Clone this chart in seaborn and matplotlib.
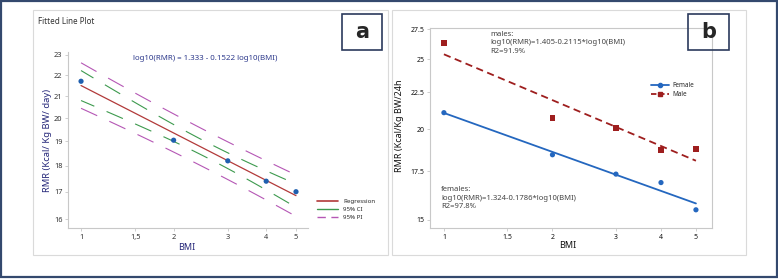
import numpy as np
import matplotlib.pyplot as plt
import seaborn as sns
from matplotlib.patches import Rectangle
from matplotlib.lines import Line2D

# data
bmi = [1, 2, 3, 4, 5]
rmr_all = [21.7, 19.05, 18.2, 17.4, 17.0]
rmr_female = [21.09, 18.45, 17.35, 16.89, 15.49]
rmr_male = [26.3, 20.72, 20.11, 18.72, 18.8]
xticks = [1, 1.5, 2, 3, 4, 5]
xtick_labels_a = ["1", "1,5", "2", "3", "4", "5"]
xtick_labels_b = ["1", "1.5", "2", "3", "4", "5"]
yticks_a = [16, 17, 18, 19, 20, 21, 22, 23]
yticks_b = [15, 17.5, 20, 22.5, 25, 27.5]
ytick_labels_b = ["15", "17.5", "20", "22.5", "25", "27.5"]
T_CRIT = 3.182  # t(0.975, df=3)

sns.set_theme(style="white")
plt.rcParams['font.family'] = ['Noto Sans', 'DejaVu Sans']

W, H = 778, 279
fig = plt.figure(figsize=(W / 100, H / 100), dpi=100)


def fx(x):
    return x / W


def fy(y):
    return 1 - y / H


def box(x0, y0, x1, y1, **kw):
    fig.patches.append(Rectangle((fx(x0), fy(y1)), fx(x1) - fx(x0), fy(y0) - fy(y1),
                                 transform=fig.transFigure, fill=False, **kw))


def axes_at(x0, y0, x1, y1):
    return fig.add_axes([fx(x0), fy(y1), fx(x1) - fx(x0), fy(y0) - fy(y1)])


def loglog_fit(x, y):
    lx, ly = np.log10(x), np.log10(y)
    b1, b0 = np.polyfit(lx, ly, 1)
    return lx, ly, b0, b1


# frames
box(1, 1, 777, 277, edgecolor="#34496E", lw=1.6)
box(33, 10, 388, 255, edgecolor="#DADADA", lw=0.8)
box(392, 10, 746, 255, edgecolor="#DADADA", lw=0.8)

# ---------------- panel a ----------------
ax = axes_at(68, 52, 308, 228)
lx, ly, b0, b1 = loglog_fit(bmi, rmr_all)
n = len(bmi)
resid = ly - (b0 + b1 * lx)
s = np.sqrt(np.sum(resid ** 2) / (n - 2))
sxx = np.sum((lx - lx.mean()) ** 2)
xs = np.linspace(1, 5, 120)
lxs = np.log10(xs)
fit = b0 + b1 * lxs
se_ci = s * np.sqrt(1 / n + (lxs - lx.mean()) ** 2 / sxx)
se_pi = s * np.sqrt(1 + 1 / n + (lxs - lx.mean()) ** 2 / sxx)

c_reg, c_ci, c_pi = "#B23A3A", "#3D9A4E", "#B557B5"
sns.lineplot(x=xs, y=10 ** fit, ax=ax, color=c_reg, lw=0.9)
for sign in (1, -1):
    sns.lineplot(x=xs, y=10 ** (fit + sign * T_CRIT * se_ci), ax=ax, color=c_ci,
                 lw=0.8, linestyle=(3, (16, 12)))
    sns.lineplot(x=xs, y=10 ** (fit + sign * T_CRIT * se_pi), ax=ax, color=c_pi,
                 lw=0.8, linestyle=(0, (16, 12)))
sns.scatterplot(x=bmi, y=rmr_all, ax=ax, color="#1F5FAF", s=14, edgecolor="none", zorder=5)

ax.set_xscale("log")
ax.set_yscale("log")
ax.set_xlim(0.907, 5.47)
ax.set_ylim(15.69, 23.15)
ax.set_xticks(xticks, xtick_labels_a)
ax.set_yticks(yticks_a, [str(v) for v in yticks_a])
ax.minorticks_off()
for sp in ("top", "right"):
    ax.spines[sp].set_visible(False)
for sp in ("left", "bottom"):
    ax.spines[sp].set_color("#C8C8C8")
    ax.spines[sp].set_linewidth(0.8)
ax.tick_params(axis="both", length=2, width=0.6, color="#C8C8C8", labelsize=5.3,
               labelcolor="#333333", pad=2, direction="out", bottom=True, left=True)
ax.set_xlabel("")
ax.set_ylabel("")
ax.set_facecolor("white")

handles_a = [Line2D([], [], color=c_reg, lw=1.2),
             Line2D([], [], color=c_ci, lw=1.0),
             Line2D([], [], color=c_pi, lw=1.0, linestyle=(0, (6, 4)))]
fig.legend(handles_a, ["Regression", "95% CI", "95% PI"], loc="upper left",
           bbox_to_anchor=(fx(314), fy(196)), frameon=False, fontsize=4.4,
           handlelength=3.4, labelspacing=0.4, handletextpad=0.9, borderpad=0)

fig.text(fx(38), fy(22), "Fitted Line Plot", fontsize=5.8, color="#333333", va="center")
fig.text(fx(205), fy(58), "log10(RMR) = 1.333 - 0.1522 log10(BMI)", fontsize=5.7,
         color="#2E3A8C", ha="center", va="center")
fig.text(fx(47), fy(140), "RMR (Kcal/ Kg BW/ day)", fontsize=6.8, color="#26287A",
         rotation=90, ha="center", va="center", fontweight="semibold")
fig.text(fx(187), fy(248), "BMI", fontsize=6.5, color="#26287A", ha="center", va="center")

box(342, 14, 382, 50, edgecolor="#2B3A5C", lw=1.2)
fig.text(fx(362), fy(32), "a", fontsize=15, fontweight="bold", ha="center", va="center",
         family="DejaVu Sans")

# ---------------- panel b ----------------
bx = axes_at(430, 28, 712, 228)
c_f, c_m = "#2467BF", "#9E1E1E"
xs_b = np.linspace(1, 5, 60)
for rmr, col, ls, mk in ((rmr_female, c_f, "-", "o"), (rmr_male, c_m, (0, (4, 2.5)), "s")):
    lxb, lyb, a0, a1 = loglog_fit(bmi, rmr)
    sns.lineplot(x=xs_b, y=10 ** (a0 + a1 * np.log10(xs_b)), ax=bx, color=col, lw=1.3,
                 linestyle=ls)
    sns.scatterplot(x=bmi, y=rmr, ax=bx, color=col, marker=mk, s=14 if mk == "o" else 18,
                    edgecolor="none", zorder=5)

bx.set_xscale("log")
bx.set_yscale("log")
bx.set_xlim(0.915, 5.54)
bx.set_ylim(14.62, 27.6)
bx.set_xticks(xticks, xtick_labels_b)
bx.set_yticks(yticks_b, ytick_labels_b)
bx.minorticks_off()
for sp in bx.spines.values():
    sp.set_color("#C8C8C8")
    sp.set_linewidth(0.8)
bx.tick_params(axis="both", length=2, width=0.6, color="#C8C8C8", labelsize=5,
               labelcolor="#111111", pad=2, direction="out", bottom=True, left=True)
for t in bx.get_xticklabels() + bx.get_yticklabels():
    t.set_fontweight("bold")
bx.set_xlabel("")
bx.set_ylabel("")
bx.set_facecolor("white")

handles_b = [Line2D([], [], color=c_f, lw=1.3, marker="o", markersize=3),
             Line2D([], [], color=c_m, lw=1.3, marker="s", markersize=3, linestyle=(0, (3, 1.5)))]
fig.legend(handles_b, ["Female", "Male"], loc="upper left",
           bbox_to_anchor=(fx(648), fy(79)), frameon=False, fontsize=4.6,
           handlelength=2.8, labelspacing=0.3, handletextpad=0.5, borderpad=0)

txt_kw = dict(fontsize=5.5, color="#444444", va="top", linespacing=1.3)
fig.text(fx(490), fy(31), "males:\nlog10(RMR)=1.405-0.2115*log10(BMI)\nR2=91.9%", **txt_kw)
fig.text(fx(441), fy(186), "females:\nlog10(RMR)=1.324-0.1786*log10(BMI)\nR2=97.8%", **txt_kw)
fig.text(fx(400), fy(126), "RMR (Kcal/Kg BW/24h", fontsize=6.5, color="#111111",
         rotation=90, ha="center", va="center", fontweight="bold")
fig.text(fx(568), fy(245), "BMI", fontsize=6.5, color="#111111", ha="center", va="center",
         fontweight="bold")

box(688, 14, 729, 50, edgecolor="#2B3A5C", lw=1.2)
fig.text(fx(708.5), fy(32), "b", fontsize=15, fontweight="bold", ha="center", va="center",
         family="DejaVu Sans")

fig.savefig("out.png", dpi=100, facecolor="white")
